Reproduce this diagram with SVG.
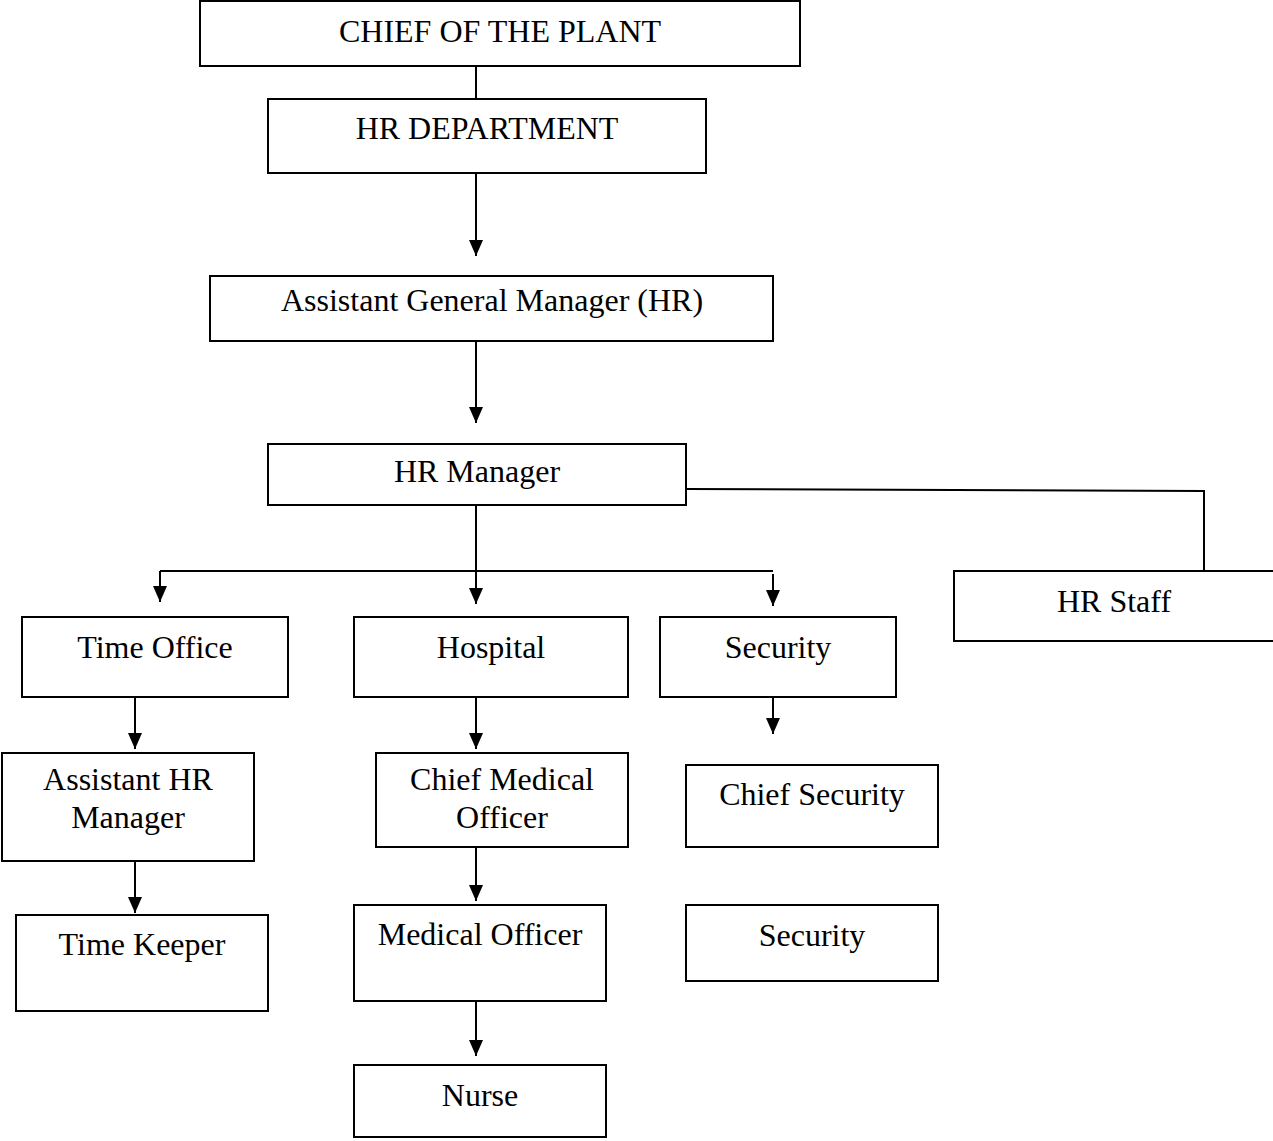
<svg xmlns="http://www.w3.org/2000/svg" width="1273" height="1141" viewBox="0 0 1273 1141">
<style>
.b{fill:#fff;stroke:#000;stroke-width:2}
.t{font-family:"Liberation Serif","Times New Roman",serif;font-size:32px;fill:#000;text-anchor:middle}
.c{fill:none;stroke:#000;stroke-width:2}
</style>
<defs>
<marker id="ad" markerUnits="userSpaceOnUse" markerWidth="16" markerHeight="14" refX="16" refY="7" orient="auto" viewBox="0 0 16 14">
<path d="M0,0 L16,7 L0,14 Z" fill="#000"/>
</marker>
</defs>
<rect width="1273" height="1141" fill="#fff"/>
<g id="connectors">
<path class="c" d="M476,66 V99"/>
<path class="c" d="M476,173 V256" marker-end="url(#ad)"/>
<path class="c" d="M476,341 V423" marker-end="url(#ad)"/>
<path class="c" d="M476,505 V571"/>
<path class="c" d="M160,571 H773"/>
<path class="c" d="M160,571 V602" marker-end="url(#ad)"/>
<path class="c" d="M476,571 V604" marker-end="url(#ad)"/>
<path class="c" d="M773,574 V606" marker-end="url(#ad)"/>
<path class="c" d="M686,489 L1204,491 V571"/>
<path class="c" d="M135,697 V749" marker-end="url(#ad)"/>
<path class="c" d="M135,861 V913" marker-end="url(#ad)"/>
<path class="c" d="M476,697 V749" marker-end="url(#ad)"/>
<path class="c" d="M476,847 V901" marker-end="url(#ad)"/>
<path class="c" d="M476,1001 V1056" marker-end="url(#ad)"/>
<path class="c" d="M773,697 V734" marker-end="url(#ad)"/>
</g>
<g id="chief"><rect class="b" x="200" y="1" width="600" height="65"/><text class="t" x="500" y="42">CHIEF OF THE PLANT</text></g>
<g id="hrdept"><rect class="b" x="268" y="99" width="438" height="74"/><text class="t" x="487" y="139">HR DEPARTMENT</text></g>
<g id="agm"><rect class="b" x="210" y="276" width="563" height="65"/><text class="t" x="492" y="311">Assistant General Manager (HR)</text></g>
<g id="hrmanager"><rect class="b" x="268" y="444" width="418" height="61"/><text class="t" x="477" y="482">HR Manager</text></g>
<g id="hrstaff"><rect class="b" x="954" y="571" width="322" height="70"/><text class="t" x="1114" y="612">HR Staff</text></g>
<g id="timeoffice"><rect class="b" x="22" y="617" width="266" height="80"/><text class="t" x="155" y="658">Time Office</text></g>
<g id="hospital"><rect class="b" x="354" y="617" width="274" height="80"/><text class="t" x="491" y="658">Hospital</text></g>
<g id="security1"><rect class="b" x="660" y="617" width="236" height="80"/><text class="t" x="778" y="658">Security</text></g>
<g id="asstmgr"><rect class="b" x="2" y="753" width="252" height="108"/><text class="t" x="128" y="790">Assistant HR</text><text class="t" x="128" y="828">Manager</text></g>
<g id="timekeeper"><rect class="b" x="16" y="915" width="252" height="96"/><text class="t" x="142" y="955">Time Keeper</text></g>
<g id="cmo"><rect class="b" x="376" y="753" width="252" height="94"/><text class="t" x="502" y="790">Chief Medical</text><text class="t" x="502" y="828">Officer</text></g>
<g id="mo"><rect class="b" x="354" y="905" width="252" height="96"/><text class="t" x="480" y="945">Medical Officer</text></g>
<g id="nurse"><rect class="b" x="354" y="1065" width="252" height="72"/><text class="t" x="480" y="1106">Nurse</text></g>
<g id="chiefsecurity"><rect class="b" x="686" y="765" width="252" height="82"/><text class="t" x="812" y="805">Chief Security</text></g>
<g id="security2"><rect class="b" x="686" y="905" width="252" height="76"/><text class="t" x="812" y="946">Security</text></g>
</svg>
